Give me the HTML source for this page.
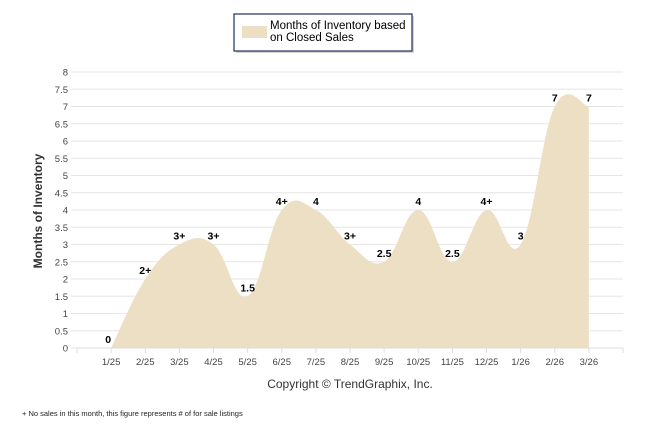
<!DOCTYPE html>
<html><head><meta charset="utf-8"><style>
body{margin:0;background:#fff;width:646px;height:434px;overflow:hidden;font-family:"Liberation Sans",sans-serif}
svg{display:block}
</style></head><body>
<svg width="646" height="434">
<g>
<rect x="236" y="16" width="178" height="37" fill="#aaa" opacity="0.5"/>
<rect x="234" y="14" width="178" height="37" fill="#fff" stroke="#1f2f5a" stroke-width="1.2"/>
<rect x="242" y="26" width="25" height="12" fill="#ecdfc4"/>
<text x="270" y="29" font-size="11.5" fill="#000">Months of Inventory based</text>
<text x="270" y="41" font-size="11.5" fill="#000">on Closed Sales</text>
</g>
<g id="grid"></g>
<g id="area"></g>
<g id="xaxis"></g>
<g id="labels"></g>
<text x="42" y="211" font-size="12" font-weight="bold" fill="#333" transform="rotate(-90 42 211)" text-anchor="middle">Months of Inventory</text>
<text x="350" y="388" font-size="12" fill="#333" text-anchor="middle">Copyright © TrendGraphix, Inc.</text>
<text x="22" y="416" font-size="7.5" fill="#222">+  No sales in this month, this figure represents # of for sale listings</text>
</svg>
<script>
const categories=["1/25","2/25","3/25","4/25","5/25","6/25","7/25","8/25","9/25","10/25","11/25","12/25","1/26","2/26","3/26"];
const values=[0,2,3,3,1.5,4,4,3,2.5,4,2.5,4,3,7,7];
const valueLabels=["0","2+","3+","3+","1.5","4+","4","3+","2.5","4","2.5","4+","3","7","7"];
const yTicks=[0,0.5,1,1.5,2,2.5,3,3.5,4,4.5,5,5.5,6,6.5,7,7.5,8];
const NS="http://www.w3.org/2000/svg";
const X0=77,X1=623,Y0=348,Y1=72,step=(X1-X0)/(categories.length+1);
const x=i=>X0+step*(i+1);
const y=v=>Y0-(v/8)*(Y0-Y1);
function mk(t,a,p){const e=document.createElementNS(NS,t);for(const k in a)e.setAttribute(k,a[k]);p.appendChild(e);return e;}
const grid=document.getElementById('grid');
yTicks.forEach(v=>{
 const l=mk('line',{x1:71,x2:X1,y1:y(v),y2:y(v),stroke:'#e6e6e6','stroke-width':1},grid);
 
 
 const t=mk('text',{x:68,y:y(v)+3.5,'font-size':9.5,fill:'#444','text-anchor':'end'},grid);
 t.textContent=String(v);
 
 
});
const pts=values.map((v,i)=>[x(i),y(v)]);
let d=`M${pts[0][0]},${Y0} L${pts[0][0]},${pts[0][1]}`;
for(let i=0;i<pts.length-1;i++){
 const p0=pts[Math.max(0,i-1)],p1=pts[i],p2=pts[i+1],p3=pts[Math.min(pts.length-1,i+2)];
 const k=0.2;
 let c1=[p1[0]+(p2[0]-p0[0])*k,p1[1]+(p2[1]-p0[1])*k];
 let c2=[p2[0]-(p3[0]-p1[0])*k,p2[1]-(p3[1]-p1[1])*k];
 c1[1]=Math.min(c1[1],Y0);c2[1]=Math.min(c2[1],Y0);
 d+=` C${c1[0]},${c1[1]} ${c2[0]},${c2[1]} ${p2[0]},${p2[1]}`;
}
d+=` L${pts[pts.length-1][0]},${Y0} Z`;
const a=mk('path',{d:d,fill:'#ecdfc4'},document.getElementById('area'));


const xa=document.getElementById('xaxis');
mk('line',{x1:X0,x2:X1,y1:Y0,y2:Y0,stroke:'#ddd'},xa);
for(let i=0;i<=categories.length+1;i++){mk('line',{x1:X0+step*i,x2:X0+step*i,y1:Y0,y2:Y0+5,stroke:'#ddd'},xa);}
categories.forEach((c,i)=>{
 const t=mk('text',{x:x(i),y:Y0+17,'font-size':9.5,fill:'#444','text-anchor':'middle'},xa);
 t.textContent=c;
 
 
});
const lb=document.getElementById('labels');
values.forEach((v,i)=>{
 const t=mk('text',{x:x(i),y:y(v)-5,'font-size':10.5,'font-weight':'bold',fill:'#000','text-anchor':'middle'},lb);
 if(i===0)t.setAttribute('x',x(i)-3);
 t.textContent=valueLabels[i];
 
 
});
</script>
</body></html>
